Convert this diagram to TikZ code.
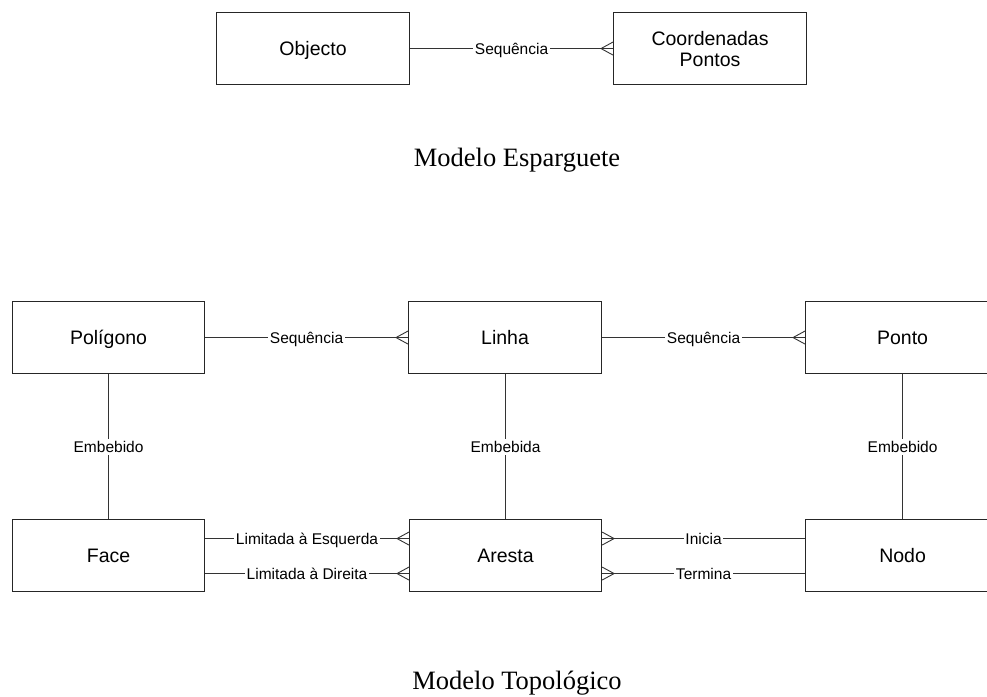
\documentclass[tikz,border=0pt]{standalone}
\usepackage{fontspec}
\setmainfont{Liberation Sans}
\newfontfamily\titlefont{Liberation Serif}
\begin{document}
\begin{tikzpicture}[x=1pt,y=-1pt,
  entity/.style={draw=black!85, line width=1.1pt, minimum width=193pt,
    minimum height=72pt, inner sep=0pt, anchor=north west, align=center,
    font=\fontsize{19.5}{21}\selectfont},
  single/.style={entity, text height=15.5pt, text depth=1.5pt},
  rel/.style={draw=black!80, line width=0.9pt},
  lbl/.style={fill=white, inner sep=1.5pt, text height=12pt, text depth=1pt,
    font=\fontsize{15.5}{17}\selectfont},
  title/.style={anchor=base, font=\titlefont\fontsize{26.5}{30}\selectfont},
  crowfoot/.pic={\draw[rel] (-12,0) -- (0,-6.5) (-12,0) -- (0,6.5);}
]
\useasboundingbox (0,0) rectangle (987,696);
\clip (0,0) rectangle (987,696);

% spaghetti model
\node[single] (objecto) at (216,12) {Objecto};
\node[entity] (coord) at (613,12) {Coordenadas\\Pontos};
\draw[rel] (objecto) -- node[lbl] {Sequência} (coord);
\pic at (coord.west) {crowfoot};
\node[title] (tesp) at (517,166) {Modelo Esparguete};

% topological model
\node[single, minimum width=192pt] (poligono) at (12,301) {Polígono};
\node[single] (linha) at (408,301) {Linha};
\node[single, minimum width=194pt] (ponto) at (805,301) {Ponto};
\node[single, minimum width=192pt] (face) at (12,519) {Face};
\node[single, minimum width=192pt] (aresta) at (409,519) {Aresta};
\node[single, minimum width=194pt] (nodo) at (805,519) {Nodo};

\draw[rel] (poligono) -- node[lbl] {Sequência} (linha);
\pic at (linha.west) {crowfoot};
\draw[rel] (linha) -- node[lbl] {Sequência} (ponto);
\pic at (ponto.west) {crowfoot};

\draw[rel] (poligono.south) -- node[lbl] {Embebido} (poligono.south |- face.north);
\draw[rel] (aresta.north |- linha.south) -- node[lbl] {Embebida} (aresta.north);
\draw[rel] (ponto.south) -- node[lbl] {Embebido} (ponto.south |- nodo.north);

\draw[rel] ([yshift=17pt]face.east) -- node[lbl] {Limitada à Esquerda} ([yshift=17pt]aresta.west);
\pic at ([yshift=17pt]aresta.west) {crowfoot};
\draw[rel] ([yshift=-18pt]face.east) -- node[lbl] {Limitada à Direita} ([yshift=-18pt]aresta.west);
\pic at ([yshift=-18pt]aresta.west) {crowfoot};

\draw[rel] ([yshift=17pt]aresta.east) -- node[lbl] {Inicia} ([yshift=17pt]nodo.west);
\pic[xscale=-1] at ([yshift=17pt]aresta.east) {crowfoot};
\draw[rel] ([yshift=-18pt]aresta.east) -- node[lbl] {Termina} ([yshift=-18pt]nodo.west);
\pic[xscale=-1] at ([yshift=-18pt]aresta.east) {crowfoot};

\node[title] (ttop) at (517,689) {Modelo Topológico};
\end{tikzpicture}
\end{document}
